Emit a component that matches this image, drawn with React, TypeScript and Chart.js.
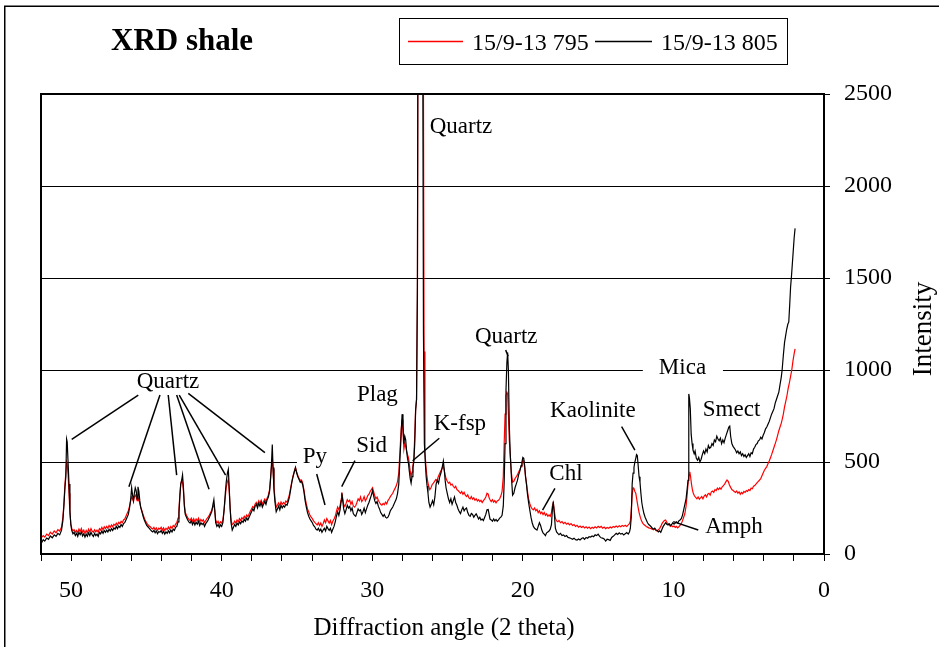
import React, { useEffect, useRef } from 'react';
import { Chart, registerables } from 'chart.js';

Chart.register(...registerables);

// ---- Series 15/9-13 805 (black) ----
const twoTheta805 = [
  51.96, 51.85, 51.75, 51.62, 51.5, 51.38, 51.25, 51.12, 51.0, 50.88,
  50.76, 50.64, 50.55, 50.48, 50.41, 50.35, 50.3, 50.26, 50.2, 50.14,
  50.08, 50.02, 49.96, 49.88, 49.8, 49.72, 49.64, 49.56, 49.48, 49.4,
  49.32, 49.24, 49.16, 49.08, 49.0, 48.92, 48.84, 48.76, 48.68, 48.6,
  48.52, 48.44, 48.36, 48.28, 48.2, 48.12, 48.04, 47.96, 47.88, 47.8,
  47.72, 47.64, 47.56, 47.48, 47.4, 47.32, 47.24, 47.16, 47.08, 47.0,
  46.92, 46.84, 46.76, 46.68, 46.6, 46.52, 46.44, 46.36, 46.28, 46.2,
  46.12, 46.04, 45.98, 45.92, 45.86, 45.8, 45.74, 45.68, 45.62, 45.56,
  45.5, 45.44, 45.38, 45.3, 45.22, 45.14, 45.06, 44.98, 44.9, 44.82,
  44.74, 44.66, 44.58, 44.5, 44.42, 44.34, 44.26, 44.18, 44.1, 44.02,
  43.94, 43.86, 43.78, 43.7, 43.62, 43.54, 43.46, 43.38, 43.3, 43.22,
  43.14, 43.06, 42.98, 42.9, 42.84, 42.78, 42.72, 42.66, 42.6, 42.54,
  42.48, 42.42, 42.34, 42.26, 42.18, 42.1, 42.02, 41.94, 41.86, 41.78,
  41.7, 41.62, 41.54, 41.46, 41.38, 41.3, 41.22, 41.14, 41.06, 40.98,
  40.9, 40.82, 40.74, 40.66, 40.58, 40.52, 40.46, 40.4, 40.32, 40.24,
  40.16, 40.08, 40.0, 39.92, 39.84, 39.76, 39.7, 39.62, 39.56, 39.5,
  39.44, 39.38, 39.3, 39.22, 39.14, 39.06, 38.98, 38.9, 38.82, 38.74,
  38.66, 38.58, 38.5, 38.42, 38.34, 38.26, 38.18, 38.1, 38.02, 37.94,
  37.86, 37.78, 37.7, 37.62, 37.54, 37.46, 37.38, 37.3, 37.22, 37.14,
  37.06, 36.98, 36.9, 36.82, 36.76, 36.7, 36.64, 36.59, 36.53, 36.46,
  36.38, 36.3, 36.22, 36.14, 36.06, 35.98, 35.9, 35.82, 35.74, 35.66,
  35.58, 35.5, 35.42, 35.34, 35.26, 35.18, 35.1, 35.02, 34.94, 34.86,
  34.78, 34.7, 34.62, 34.54, 34.46, 34.38, 34.3, 34.22, 34.14, 34.06,
  33.98, 33.9, 33.82, 33.74, 33.66, 33.58, 33.5, 33.42, 33.34, 33.26,
  33.18, 33.1, 33.02, 32.94, 32.86, 32.78, 32.7, 32.62, 32.54, 32.46,
  32.38, 32.3, 32.22, 32.14, 32.06, 32.02, 31.96, 31.9, 31.82, 31.74,
  31.66, 31.58, 31.5, 31.42, 31.34, 31.26, 31.18, 31.1, 31.02, 30.94,
  30.86, 30.78, 30.7, 30.62, 30.54, 30.46, 30.38, 30.3, 30.22, 30.14,
  30.06, 29.98, 29.92, 29.84, 29.76, 29.68, 29.6, 29.52, 29.44, 29.36,
  29.28, 29.2, 29.12, 29.04, 28.96, 28.88, 28.8, 28.72, 28.64, 28.56,
  28.48, 28.4, 28.32, 28.24, 28.16, 28.08, 28.02, 27.96, 27.9, 27.84,
  27.78, 27.72, 27.66, 27.6, 27.54, 27.48, 27.42, 27.36, 27.3, 27.24,
  27.18, 27.12, 27.06, 27.0, 26.96, 26.8, 26.66, 26.6, 26.54, 26.48,
  26.42, 26.36, 26.3, 26.24, 26.16, 26.08, 26.0, 25.92, 25.84, 25.76,
  25.68, 25.6, 25.52, 25.44, 25.36, 25.28, 25.22, 25.16, 25.1, 25.02,
  24.94, 24.86, 24.78, 24.7, 24.62, 24.54, 24.46, 24.38, 24.3, 24.22,
  24.14, 24.06, 23.98, 23.9, 23.82, 23.74, 23.66, 23.58, 23.5, 23.42,
  23.34, 23.26, 23.18, 23.1, 23.02, 22.94, 22.86, 22.78, 22.7, 22.62,
  22.54, 22.46, 22.38, 22.3, 22.24, 22.18, 22.1, 22.02, 21.94, 21.86,
  21.78, 21.7, 21.62, 21.54, 21.46, 21.38, 21.3, 21.24, 21.18, 21.12,
  21.06, 21.01, 20.96, 20.9, 20.84, 20.76, 20.68, 20.6, 20.52, 20.44,
  20.36, 20.28, 20.2, 20.12, 20.06, 20.0, 19.94, 19.88, 19.82, 19.76,
  19.7, 19.62, 19.54, 19.46, 19.38, 19.3, 19.22, 19.14, 19.06, 18.98,
  18.9, 18.82, 18.74, 18.66, 18.58, 18.5, 18.42, 18.34, 18.26, 18.18,
  18.1, 18.04, 17.98, 17.92, 17.84, 17.76, 17.68, 17.6, 17.5, 17.4,
  17.3, 17.2, 17.1, 17.0, 16.9, 16.8, 16.7, 16.6, 16.5, 16.4,
  16.3, 16.2, 16.1, 16.0, 15.9, 15.8, 15.7, 15.6, 15.5, 15.4,
  15.3, 15.2, 15.1, 15.0, 14.9, 14.8, 14.7, 14.6, 14.5, 14.4,
  14.3, 14.2, 14.1, 14.0, 13.9, 13.8, 13.7, 13.6, 13.5, 13.4,
  13.3, 13.2, 13.1, 13.0, 12.92, 12.86, 12.8, 12.74, 12.68, 12.62,
  12.56, 12.5, 12.45, 12.4, 12.34, 12.28, 12.22, 12.16, 12.1, 12.04,
  11.96, 11.88, 11.8, 11.72, 11.64, 11.56, 11.48, 11.4, 11.32, 11.24,
  11.16, 11.08, 11.0, 10.92, 10.84, 10.76, 10.68, 10.6, 10.52, 10.44,
  10.36, 10.28, 10.2, 10.12, 10.04, 9.96, 9.88, 9.8, 9.72, 9.64,
  9.56, 9.48, 9.4, 9.32, 9.24, 9.16, 9.08, 9.03, 8.98, 8.94,
  8.88, 8.82, 8.76, 8.7, 8.62, 8.56, 8.48, 8.4, 8.32, 8.24,
  8.16, 8.08, 8.0, 7.92, 7.84, 7.76, 7.68, 7.6, 7.52, 7.44,
  7.36, 7.28, 7.2, 7.12, 7.04, 6.96, 6.88, 6.8, 6.72, 6.64,
  6.56, 6.48, 6.4, 6.32, 6.26, 6.2, 6.12, 6.04, 5.96, 5.88,
  5.8, 5.72, 5.64, 5.56, 5.48, 5.4, 5.32, 5.24, 5.16, 5.08,
  5.0, 4.92, 4.84, 4.76, 4.68, 4.6, 4.52, 4.44, 4.36, 4.28,
  4.2, 4.12, 4.04, 3.96, 3.88, 3.8, 3.72, 3.64, 3.56, 3.48,
  3.4, 3.32, 3.24, 3.16, 3.08, 3.0, 2.92, 2.84, 2.78, 2.7,
  2.62, 2.56, 2.48, 2.4, 2.34, 2.28, 2.22, 2.16, 2.1, 2.04,
  1.98, 1.92,
];
const intensity805 = [
  62, 78, 70, 87, 80, 98, 88, 104, 96, 112,
  104, 128, 180, 260, 360, 420, 625, 610, 495, 380,
  240, 160, 128, 110, 118, 100, 112, 96, 118, 105,
  120, 98, 110, 92, 108, 96, 115, 100, 118, 104,
  95, 112, 100, 108, 96, 118, 110, 125, 112, 128,
  118, 130, 120, 135, 125, 138, 128, 142, 135, 150,
  138, 152, 145, 160, 150, 165, 170, 185, 200, 215,
  250, 300, 360, 320, 290, 330, 360, 345, 300, 365,
  340, 290, 255, 230, 205, 185, 170, 155, 148, 140,
  132, 125, 120, 128, 115, 125, 110, 122, 118, 128,
  112, 124, 108, 120, 112, 126, 115, 130, 120, 135,
  128, 145, 150, 175, 220, 310, 380, 400, 430, 360,
  260, 215, 200, 185, 175, 168, 180, 160, 175, 158,
  172, 162, 178, 155, 170, 160, 168, 150, 165, 175,
  185, 200, 215, 230, 270, 295, 240, 170, 150, 160,
  145, 158, 150, 170, 240, 330, 390, 440, 460, 360,
  250, 170, 130, 145, 160, 150, 168, 158, 175, 165,
  180, 172, 188, 178, 195, 185, 200, 215, 230, 245,
  235, 260, 270, 250, 275, 260, 280, 255, 270, 285,
  270, 295, 310, 340, 400, 480, 595, 470, 350, 280,
  230, 245, 260, 240, 265, 250, 262, 255, 270, 265,
  285, 310, 350, 390, 420, 445, 470, 440, 420, 405,
  390, 395, 375, 340, 290, 255, 225, 205, 190, 180,
  170, 155, 148, 135, 130, 140, 125, 135, 118, 130,
  140, 125, 150, 138, 128, 140, 118, 135, 150, 175,
  205, 230, 210, 240, 290, 330, 290, 245, 220, 240,
  265, 250, 258, 235, 250, 220, 210, 205, 225, 245,
  235, 240, 215, 230, 250, 225, 245, 265, 280, 300,
  320, 345, 320, 290, 275, 285, 260, 245, 225, 215,
  205, 215, 200, 195, 200, 215, 235, 245, 255, 270,
  285, 300, 330, 380, 520, 650, 760, 700, 600, 640,
  620, 560, 520, 495, 450, 410, 385, 420, 470, 500,
  600, 780, 840, 1500, 3200, 3300, 3200, 1200, 600, 500,
  420, 370, 330, 280, 255, 270, 290, 268, 310, 380,
  400, 385, 420, 440, 470, 505, 460, 400, 360, 330,
  300, 280, 300, 270, 290, 310, 280, 265, 245, 230,
  220, 240, 255, 235, 245, 250, 225, 210, 205, 220,
  215, 200, 210, 218, 205, 190, 200, 185, 190, 182,
  198, 215, 240, 242, 215, 190, 185, 178, 190, 180,
  188, 178, 185, 195, 200, 210, 260, 390, 600, 890,
  1040, 1095, 1000, 700, 550, 420, 320, 330, 360, 380,
  400, 430, 450, 480, 500, 525, 520, 480, 420, 380,
  330, 280, 240, 200, 170, 150, 140, 135, 130, 150,
  170, 155, 130, 115, 108, 100, 115, 120, 125, 135,
  160, 240, 285, 230, 140, 120, 112, 105, 112, 100,
  104, 95, 100, 90, 88, 84, 80, 86, 78, 76,
  82, 76, 84, 88, 80, 90, 86, 94, 92, 98,
  94, 104, 100, 108, 96, 88, 86, 82, 70, 80,
  78, 74, 90, 96, 104, 112, 106, 115, 108, 112,
  104, 110, 116, 108, 120, 140, 200, 380, 440, 470,
  500, 520, 540, 535, 480, 420, 390, 330, 280, 250,
  220, 200, 185, 170, 160, 155, 148, 140, 135, 140,
  130, 128, 120, 126, 118, 135, 150, 160, 170, 162,
  158, 165, 155, 160, 170, 162, 168, 175, 168, 180,
  185, 192, 210, 240, 270, 300, 360, 400, 870, 850,
  790, 650, 600, 565, 545, 560, 520, 510, 525, 500,
  515, 540, 560, 545, 570, 555, 590, 575, 580, 600,
  590, 620, 610, 640, 625, 615, 630, 600, 620, 605,
  630, 650, 670, 690, 695, 640, 600, 585, 575, 565,
  550, 560, 545, 555, 535, 545, 530, 540, 525, 535,
  545, 530, 550, 545, 570, 580, 595, 600, 615, 620,
  635, 625, 645, 660, 680, 690, 705, 720, 740, 760,
  775, 790, 820, 840, 860, 880, 920, 960, 1000, 1080,
  1150, 1180, 1220, 1250, 1260, 1350, 1450, 1510, 1580, 1650,
  1720, 1770,
];

// ---- Series 15/9-13 795 (red) ----
const twoTheta795 = [
  51.96, 51.85, 51.75, 51.62, 51.5, 51.38, 51.25, 51.12, 51.0, 50.88,
  50.76, 50.64, 50.55, 50.48, 50.41, 50.35, 50.3, 50.26, 50.2, 50.14,
  50.08, 50.02, 49.96, 49.88, 49.8, 49.72, 49.64, 49.56, 49.48, 49.4,
  49.32, 49.24, 49.16, 49.08, 49.0, 48.92, 48.84, 48.76, 48.68, 48.6,
  48.52, 48.44, 48.36, 48.28, 48.2, 48.12, 48.04, 47.96, 47.88, 47.8,
  47.72, 47.64, 47.56, 47.48, 47.4, 47.32, 47.24, 47.16, 47.08, 47.0,
  46.92, 46.84, 46.76, 46.68, 46.6, 46.52, 46.44, 46.36, 46.28, 46.2,
  46.12, 46.04, 45.98, 45.92, 45.86, 45.8, 45.74, 45.68, 45.62, 45.56,
  45.5, 45.44, 45.38, 45.3, 45.22, 45.14, 45.06, 44.98, 44.9, 44.82,
  44.74, 44.66, 44.58, 44.5, 44.42, 44.34, 44.26, 44.18, 44.1, 44.02,
  43.94, 43.86, 43.78, 43.7, 43.62, 43.54, 43.46, 43.38, 43.3, 43.22,
  43.14, 43.06, 42.98, 42.9, 42.84, 42.78, 42.72, 42.66, 42.6, 42.54,
  42.48, 42.42, 42.34, 42.26, 42.18, 42.1, 42.02, 41.94, 41.86, 41.78,
  41.7, 41.62, 41.54, 41.46, 41.38, 41.3, 41.22, 41.14, 41.06, 40.98,
  40.9, 40.82, 40.74, 40.66, 40.58, 40.52, 40.46, 40.4, 40.32, 40.24,
  40.16, 40.08, 40.0, 39.92, 39.84, 39.76, 39.7, 39.62, 39.56, 39.5,
  39.44, 39.38, 39.3, 39.22, 39.14, 39.06, 38.98, 38.9, 38.82, 38.74,
  38.66, 38.58, 38.5, 38.42, 38.34, 38.26, 38.18, 38.1, 38.02, 37.94,
  37.86, 37.78, 37.7, 37.62, 37.54, 37.46, 37.38, 37.3, 37.22, 37.14,
  37.06, 36.98, 36.9, 36.82, 36.76, 36.7, 36.64, 36.59, 36.53, 36.46,
  36.38, 36.3, 36.22, 36.14, 36.06, 35.98, 35.9, 35.82, 35.74, 35.66,
  35.58, 35.5, 35.42, 35.34, 35.26, 35.18, 35.1, 35.02, 34.94, 34.86,
  34.78, 34.7, 34.62, 34.54, 34.46, 34.38, 34.3, 34.22, 34.14, 34.06,
  33.98, 33.9, 33.82, 33.74, 33.66, 33.58, 33.5, 33.42, 33.34, 33.26,
  33.18, 33.1, 33.02, 32.94, 32.86, 32.78, 32.7, 32.62, 32.54, 32.46,
  32.38, 32.3, 32.22, 32.14, 32.06, 32.02, 31.96, 31.9, 31.82, 31.74,
  31.66, 31.58, 31.5, 31.42, 31.34, 31.26, 31.18, 31.1, 31.02, 30.94,
  30.86, 30.78, 30.7, 30.62, 30.54, 30.46, 30.38, 30.3, 30.22, 30.14,
  30.06, 29.98, 29.92, 29.84, 29.76, 29.68, 29.6, 29.52, 29.44, 29.36,
  29.28, 29.2, 29.12, 29.04, 28.96, 28.88, 28.8, 28.72, 28.64, 28.56,
  28.48, 28.4, 28.32, 28.24, 28.16, 28.08, 28.02, 27.96, 27.9, 27.84,
  27.78, 27.72, 27.66, 27.6, 27.54, 27.48, 27.42, 27.36, 27.3, 27.24,
  27.18, 27.12, 27.06, 27.0, 26.96, 26.8, 26.62, 26.56, 26.5, 26.44,
  26.38, 26.32, 26.26, 26.18, 26.1, 26.02, 25.94, 25.86, 25.78, 25.7,
  25.62, 25.54, 25.46, 25.38, 25.3, 25.22, 25.16, 25.1, 25.02, 24.94,
  24.86, 24.78, 24.7, 24.62, 24.54, 24.46, 24.38, 24.3, 24.22, 24.14,
  24.06, 23.98, 23.9, 23.82, 23.74, 23.66, 23.58, 23.5, 23.42, 23.34,
  23.26, 23.18, 23.1, 23.02, 22.94, 22.86, 22.78, 22.7, 22.62, 22.54,
  22.46, 22.38, 22.3, 22.24, 22.18, 22.1, 22.02, 21.94, 21.86, 21.78,
  21.7, 21.62, 21.54, 21.46, 21.38, 21.3, 21.24, 21.18, 21.12, 21.06,
  21.01, 20.96, 20.9, 20.84, 20.76, 20.68, 20.6, 20.52, 20.44, 20.36,
  20.28, 20.2, 20.12, 20.06, 20.0, 19.94, 19.88, 19.82, 19.76, 19.7,
  19.62, 19.54, 19.46, 19.38, 19.3, 19.22, 19.14, 19.06, 18.98, 18.9,
  18.82, 18.74, 18.66, 18.58, 18.5, 18.42, 18.34, 18.26, 18.18, 18.1,
  18.04, 17.98, 17.92, 17.84, 17.76, 17.68, 17.6, 17.5, 17.4, 17.3,
  17.2, 17.1, 17.0, 16.9, 16.8, 16.7, 16.6, 16.5, 16.4, 16.3,
  16.2, 16.1, 16.0, 15.9, 15.8, 15.7, 15.6, 15.5, 15.4, 15.3,
  15.2, 15.1, 15.0, 14.9, 14.8, 14.7, 14.6, 14.5, 14.4, 14.3,
  14.2, 14.1, 14.0, 13.9, 13.8, 13.7, 13.6, 13.5, 13.4, 13.3,
  13.2, 13.1, 13.0, 12.92, 12.86, 12.8, 12.74, 12.68, 12.62, 12.56,
  12.5, 12.44, 12.36, 12.28, 12.2, 12.12, 12.04, 11.96, 11.88, 11.8,
  11.72, 11.64, 11.56, 11.48, 11.4, 11.32, 11.24, 11.16, 11.08, 11.0,
  10.92, 10.84, 10.76, 10.68, 10.6, 10.52, 10.44, 10.36, 10.28, 10.2,
  10.12, 10.04, 9.96, 9.88, 9.8, 9.72, 9.64, 9.56, 9.48, 9.4,
  9.32, 9.24, 9.16, 9.08, 9.02, 8.96, 8.91, 8.86, 8.8, 8.74,
  8.68, 8.6, 8.52, 8.44, 8.36, 8.28, 8.2, 8.12, 8.04, 7.96,
  7.88, 7.8, 7.72, 7.64, 7.56, 7.48, 7.4, 7.32, 7.24, 7.16,
  7.08, 7.0, 6.92, 6.84, 6.76, 6.68, 6.6, 6.52, 6.44, 6.36,
  6.28, 6.2, 6.12, 6.04, 5.96, 5.88, 5.8, 5.72, 5.64, 5.56,
  5.48, 5.4, 5.32, 5.24, 5.16, 5.08, 5.0, 4.92, 4.84, 4.76,
  4.68, 4.6, 4.52, 4.44, 4.36, 4.28, 4.2, 4.12, 4.04, 3.96,
  3.88, 3.8, 3.72, 3.64, 3.56, 3.48, 3.4, 3.32, 3.24, 3.16,
  3.08, 3.0, 2.92, 2.84, 2.78, 2.7, 2.62, 2.54, 2.46, 2.38,
  2.3, 2.22, 2.14, 2.06, 1.98, 1.92,
];
const intensity795 = [
  90, 100, 92, 108, 100, 118, 108, 125, 115, 132,
  125, 145, 195, 270, 380, 440, 500, 490, 430, 330,
  220, 165, 140, 125, 132, 118, 128, 115, 135, 122,
  138, 118, 130, 112, 128, 115, 135, 120, 138, 124,
  118, 132, 120, 130, 118, 138, 130, 145, 132, 148,
  138, 150, 140, 155, 145, 158, 148, 162, 155, 168,
  158, 172, 165, 178, 170, 185, 190, 205, 220, 235,
  260, 290, 310, 300, 285, 310, 320, 310, 290, 305,
  295, 275, 255, 235, 215, 195, 180, 168, 160, 152,
  148, 140, 136, 145, 132, 142, 128, 140, 135, 145,
  130, 142, 128, 140, 132, 146, 135, 150, 140, 155,
  148, 162, 170, 195, 240, 320, 380, 400, 390, 340,
  270, 225, 210, 198, 188, 182, 195, 178, 192, 175,
  190, 180, 195, 175, 188, 178, 186, 170, 182, 192,
  200, 212, 225, 238, 258, 265, 235, 185, 168, 178,
  162, 175, 168, 185, 240, 310, 360, 395, 405, 340,
  250, 185, 160, 165, 178, 168, 185, 175, 192, 182,
  198, 190, 205, 195, 212, 202, 218, 232, 245, 258,
  250, 272, 280, 265, 288, 275, 292, 270, 285, 298,
  285, 305, 320, 350, 410, 470, 510, 460, 370, 300,
  255, 265, 278, 262, 282, 270, 280, 272, 288, 282,
  300, 325, 360, 395, 425, 450, 470, 445, 425, 410,
  400, 402, 385, 350, 305, 272, 245, 228, 212, 200,
  192, 180, 172, 165, 158, 170, 155, 168, 150, 165,
  185, 170, 192, 180, 168, 182, 160, 178, 190, 205,
  232, 255, 240, 262, 300, 335, 300, 270, 258, 275,
  295, 285, 292, 270, 285, 262, 255, 262, 280, 300,
  290, 310, 285, 295, 312, 288, 300, 318, 325, 340,
  350, 360, 342, 318, 300, 310, 292, 280, 270, 265,
  275, 268, 282, 272, 290, 300, 312, 322, 330, 345,
  358, 372, 395, 440, 560, 680, 730, 660, 570, 600,
  585, 560, 540, 525, 490, 450, 420, 445, 480, 520,
  640, 790, 840, 1400, 3200, 3300, 3200, 1100, 560, 480,
  430, 395, 372, 350, 360, 378, 385, 395, 405, 398,
  420, 435, 450, 462, 478, 455, 430, 410, 395, 385,
  390, 375, 380, 368, 360, 368, 350, 345, 338, 330,
  340, 325, 335, 320, 312, 322, 305, 300, 312, 298,
  305, 292, 300, 288, 295, 285, 292, 280, 290, 298,
  310, 330, 325, 305, 295, 285, 295, 282, 290, 278,
  288, 292, 300, 315, 340, 420, 600, 760, 860, 880,
  870, 760, 620, 540, 440, 390, 395, 410, 420, 430,
  445, 458, 475, 490, 510, 505, 470, 420, 385, 345,
  300, 275, 255, 245, 240, 250, 235, 242, 225, 235,
  220, 228, 215, 225, 210, 218, 205, 212, 205, 225,
  260, 278, 240, 195, 180, 175, 182, 170, 176, 165,
  172, 162, 168, 158, 165, 155, 160, 150, 156, 146,
  152, 144, 150, 142, 148, 140, 146, 138, 145, 140,
  148, 142, 150, 144, 150, 140, 146, 138, 144, 140,
  147, 142, 150, 145, 152, 146, 154, 148, 155, 150,
  156, 150, 158, 165, 180, 240, 320, 360, 355, 340,
  330, 300, 260, 225, 200, 180, 168, 160, 155, 150,
  146, 142, 140, 138, 135, 132, 138, 128, 125, 132,
  138, 150, 165, 175, 182, 185, 172, 165, 158, 150,
  155, 148, 152, 145, 150, 142, 148, 155, 165, 180,
  200, 220, 260, 330, 390, 430, 447, 420, 380, 350,
  330, 315, 308, 300, 310, 298, 305, 312, 300, 315,
  322, 310, 325, 330, 320, 338, 342, 335, 350, 345,
  358, 350, 360, 352, 365, 372, 380, 392, 402, 395,
  375, 362, 350, 345, 340, 335, 342, 330, 338, 325,
  335, 328, 340, 335, 345, 340, 350, 345, 358, 355,
  368, 372, 380, 388, 395, 402, 410, 425, 440, 455,
  465, 475, 490, 505, 522, 540, 560, 580, 600, 620,
  645, 670, 690, 710, 730, 760, 800, 830, 860, 900,
  930, 965, 1000, 1050, 1090, 1115,
];

// ---- Axis ticks ----
const xLabelledTicks = [0, 10, 20, 30, 40, 50];
const yTickStep = 500;

// ---- Legend / titles ----
const chartTitle = 'XRD shale';
const seriesNames = ['15/9-13 795', '15/9-13 805'];
const seriesColors = ['#ff0000', '#000000'];
const xAxisTitle = 'Diffraction angle (2 theta)';
const yAxisTitle = 'Intensity';

// ---- Annotations (data coordinates) ----
const annotationTexts = [
  { text: 'Quartz', x: 43.57, y: 935 },
  { text: 'Py', x: 33.81, y: 526 },
  { text: 'Sid', x: 30.04, y: 587 },
  { text: 'Plag', x: 29.66, y: 864 },
  { text: 'K-fsp', x: 24.18, y: 707 },
  { text: 'Quartz', x: 24.11, y: 2321 },
  { text: 'Quartz', x: 21.1, y: 1177 },
  { text: 'Chl', x: 17.14, y: 435 },
  { text: 'Kaolinite', x: 15.35, y: 777 },
  { text: 'Mica', x: 9.4, y: 1011 },
  { text: 'Smect', x: 6.14, y: 783 },
  { text: 'Amph', x: 5.98, y: 147 },
];
const leaderLines = [
  [45.54, 864, 49.96, 623],
  [44.1, 864, 46.16, 366],
  [43.55, 864, 42.99, 429],
  [42.99, 864, 40.84, 352],
  [42.82, 864, 39.74, 429],
  [42.22, 873, 37.13, 551],
  [33.69, 435, 33.14, 266],
  [31.15, 507, 32.03, 366],
  [25.55, 629, 27.32, 507],
  [21.14, 1109, 20.98, 1075],
  [17.87, 357, 18.69, 239],
  [13.44, 692, 12.56, 565],
  [8.35, 130, 10.01, 176],
];
const maskBoxes = [
  { x1: 35.0, x2: 32.0, y1: 620, y2: 429 },
  { x1: 12.03, x2: 6.71, y1: 1082, y2: 935 },
];

const SERIF = '"Liberation Serif", "Times New Roman", Times, serif';

const decorPlugin = {
  id: 'decor',
  beforeDatasetsDraw(chart: any) {
    const { ctx, scales } = chart;
    const xs = scales.x;
    const ys = scales.y;
    ctx.save();
    ctx.fillStyle = '#ffffff';
    for (const b of maskBoxes) {
      const x1 = xs.getPixelForValue(b.x1);
      const x2 = xs.getPixelForValue(b.x2);
      const y1 = ys.getPixelForValue(b.y1);
      const y2 = ys.getPixelForValue(b.y2);
      ctx.fillRect(Math.min(x1, x2), Math.min(y1, y2), Math.abs(x2 - x1), Math.abs(y2 - y1));
    }
    ctx.restore();
  },
  afterDatasetsDraw(chart: any) {
    const { ctx, scales } = chart;
    const xs = scales.x;
    const ys = scales.y;
    ctx.save();
    ctx.strokeStyle = '#000';
    ctx.lineWidth = 1.5;
    for (const l of leaderLines) {
      ctx.beginPath();
      ctx.moveTo(xs.getPixelForValue(l[0]), ys.getPixelForValue(l[1]));
      ctx.lineTo(xs.getPixelForValue(l[2]), ys.getPixelForValue(l[3]));
      ctx.stroke();
    }
    ctx.fillStyle = '#000';
    ctx.font = `23px ${SERIF}`;
    ctx.textAlign = 'center';
    ctx.textBaseline = 'middle';
    for (const a of annotationTexts) {
      ctx.fillText(a.text, xs.getPixelForValue(a.x), ys.getPixelForValue(a.y));
    }
    ctx.restore();
  },
  afterDraw(chart: any) {
    const { ctx, chartArea } = chart;
    ctx.save();
    // outer frame
    ctx.strokeStyle = '#000';
    ctx.lineWidth = 1.5;
    ctx.strokeRect(4.75, 6.25, 1200, 1200);
    // plot area left / top border
    ctx.lineWidth = 2;
    ctx.beginPath();
    ctx.moveTo(chartArea.left, chartArea.bottom);
    ctx.lineTo(chartArea.left, chartArea.top);
    ctx.lineTo(chartArea.right, chartArea.top);
    ctx.stroke();
    // title
    ctx.fillStyle = '#000';
    ctx.font = `bold 31px ${SERIF}`;
    ctx.textAlign = 'left';
    ctx.textBaseline = 'alphabetic';
    ctx.fillText(chartTitle, 111, 50);
    // legend
    ctx.lineWidth = 1;
    ctx.strokeStyle = '#000';
    ctx.strokeRect(399.5, 18.5, 388, 46);
    ctx.font = `24px ${SERIF}`;
    const legendItems = [
      { lx1: 408, lx2: 463, tx: 472 },
      { lx1: 595, lx2: 652, tx: 661 },
    ];
    legendItems.forEach((it, i) => {
      ctx.strokeStyle = seriesColors[i];
      ctx.lineWidth = 1.5;
      ctx.beginPath();
      ctx.moveTo(it.lx1, 41.5);
      ctx.lineTo(it.lx2, 41.5);
      ctx.stroke();
      ctx.fillStyle = '#000';
      ctx.fillText(seriesNames[i], it.tx, 50);
    });
    // x axis title
    ctx.font = `25px ${SERIF}`;
    ctx.textAlign = 'center';
    ctx.fillText(xAxisTitle, 444, 635);
    // y axis title (rotated, reading bottom to top)
    ctx.font = `27px ${SERIF}`;
    ctx.translate(931, 329);
    ctx.rotate(-Math.PI / 2);
    ctx.fillText(yAxisTitle, 0, 0);
    ctx.restore();
  },
};

export default function App() {
  const canvasRef = useRef<HTMLCanvasElement | null>(null);

  useEffect(() => {
    if (!canvasRef.current) return;
    Chart.defaults.font.family = SERIF;
    const chart = new Chart(canvasRef.current, {
      type: 'line',
      data: {
        datasets: [
          {
            label: seriesNames[0],
            data: twoTheta795.map((x, i) => ({ x, y: intensity795[i] })),
            borderColor: seriesColors[0],
            borderWidth: 1.2,
            pointRadius: 0,
            tension: 0,
            order: 2,
          },
          {
            label: seriesNames[1],
            data: twoTheta805.map((x, i) => ({ x, y: intensity805[i] })),
            borderColor: seriesColors[1],
            borderWidth: 1.2,
            pointRadius: 0,
            tension: 0,
            order: 1,
          },
        ],
      },
      options: {
        responsive: false,
        animation: false,
        events: [],
        layout: { padding: { left: 41, top: 94, right: 0, bottom: 0 } },
        plugins: {
          legend: { display: false },
          tooltip: { enabled: false },
          title: { display: false },
        },
        scales: {
          x: {
            type: 'linear',
            min: 0,
            max: 52,
            reverse: true,
            afterFit: (s: any) => {
              s.height = 93;
            },
            ticks: {
              stepSize: 2,
              autoSkip: false,
              maxRotation: 0,
              color: '#000',
              font: { size: 24 },
              padding: 15,
              callback: (v: any) => (xLabelledTicks.includes(Number(v)) ? String(v) : ''),
            },
            grid: { drawOnChartArea: false, drawTicks: true, tickLength: 7, color: '#000', lineWidth: 1 },
            border: { display: true, color: '#000', width: 2 },
          },
          y: {
            type: 'linear',
            position: 'right',
            min: 0,
            max: 2500,
            afterFit: (s: any) => {
              s.width = 115;
            },
            ticks: {
              stepSize: yTickStep,
              color: '#000',
              font: { size: 24 },
              padding: 14,
              callback: (v: any) => String(v),
            },
            grid: { color: '#000', lineWidth: 1, tickLength: 6 },
            border: { display: true, color: '#000', width: 2 },
          },
        },
      },
      plugins: [decorPlugin],
    });
    return () => chart.destroy();
  }, []);

  return (
    <div style={{ position: 'absolute', left: 0, top: 0, width: 939, height: 647, background: '#fff' }}>
      <canvas ref={canvasRef} width={939} height={647} style={{ display: 'block' }} />
    </div>
  );
}
